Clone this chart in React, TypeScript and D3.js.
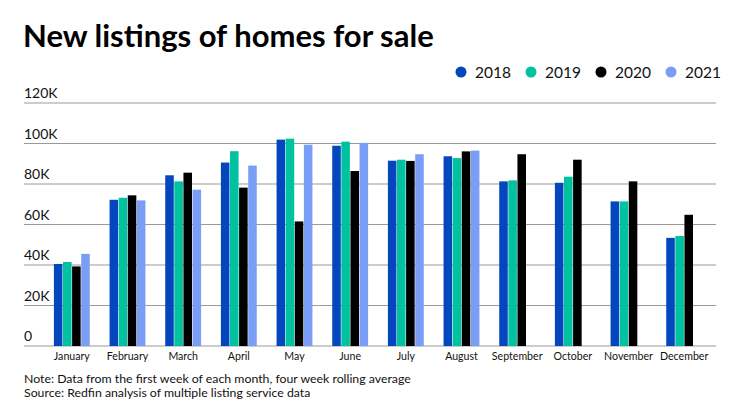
import React, { useEffect, useMemo } from "react";
import * as d3 from "d3";

const WIDTH = 740;
const HEIGHT = 416;
const FONT = "Lato, 'Noto Sans', sans-serif";

// chart data
const months = [
  "January", "February", "March", "April", "May", "June",
  "July", "August", "September", "October", "November", "December",
];
const years = ["2018", "2019", "2020", "2021"];
const values2018 = [40.5, 72.2, 84.3, 90.6, 101.9, 98.9, 91.5, 93.7, 81.3, 80.6, 71.4, 53.4];
const values2019 = [41.5, 73.2, 81.3, 96.2, 102.4, 100.9, 92.0, 92.8, 81.8, 83.6, 71.4, 54.3];
const values2020 = [39.3, 74.4, 85.6, 78.2, 61.5, 86.4, 91.4, 96.1, 94.7, 92.0, 81.3, 64.8];
const values2021 = [45.5, 71.9, 77.2, 89.1, 99.4, 100.3, 94.7, 96.5, null, null, null, null];
const yTicks = [0, 20, 40, 60, 80, 100, 120];
const yTickLabels = ["0", "20K", "40K", "60K", "80K", "100K", "120K"];

const COLORS: Record<string, string> = {
  "2018": "#0346BE",
  "2019": "#00C2A0",
  "2020": "#000000",
  "2021": "#7A9DF5",
};

const MARGIN = { left: 24, right: 24, top: 103, bottom: 70 };

export default function App() {
  useEffect(() => {
    document.body.style.margin = "0";
  }, []);

  const series = [values2018, values2019, values2020, values2021];

  const xScale = useMemo(
    () =>
      d3.scaleBand()
        .domain(months)
        .range([44, 712])
        .paddingInner(0.336)
        .paddingOuter(0.168),
    []
  );
  const xInner = useMemo(
    () => d3.scaleBand().domain(years).range([0, xScale.bandwidth()]).padding(0.06),
    [xScale]
  );
  const yScale = useMemo(
    () => d3.scaleLinear().domain([0, 120]).range([346, 103]),
    []
  );

  const bars = months.flatMap((m, i) =>
    years.map((yr, j) => {
      const v = series[j][i];
      if (v == null) return null;
      const x = (xScale(m) ?? 0) + (xInner(yr) ?? 0);
      const y = yScale(v);
      return (
        <rect
          key={m + yr}
          x={x}
          y={y}
          width={xInner.bandwidth()}
          height={yScale(0) - y}
          fill={COLORS[yr]}
        />
      );
    })
  );

  const legendX = [461, 531, 601, 671];

  return (
    <svg width={WIDTH} height={HEIGHT} style={{ display: "block" }} fontFamily={FONT}>
      <rect width={WIDTH} height={HEIGHT} fill="#fff" />
      <text x={23} y={47} fontSize={31} fontWeight={700} fill="#000">
        New listings of homes for sale
      </text>

      {/* legend */}
      {years.map((yr, i) => (
        <g key={yr} transform={`translate(${legendX[i]},72)`}>
          <circle cx={0} cy={0} r={5.5} fill={COLORS[yr]} />
          <text x={14} y={5.5} fontSize={15.5} fill="#111">
            {yr}
          </text>
        </g>
      ))}

      {/* grid + y labels */}
      {yTicks.map((t, i) => (
        <g key={t}>
          <line
            x1={MARGIN.left}
            x2={WIDTH - MARGIN.right}
            y1={yScale(t)}
            y2={yScale(t)}
            stroke="#9a9a9a"
            strokeWidth={1.2}
          />
          <text x={MARGIN.left} y={yScale(t) - 5} fontSize={14} fill="#111">
            {yTickLabels[i]}
          </text>
        </g>
      ))}

      {bars}

      {/* month labels */}
      {months.map((m) => (
        <text
          key={m}
          x={(xScale(m) ?? 0) + xScale.bandwidth() / 2}
          y={360}
          fontSize={10.6}
          textAnchor="middle"
          fill="#111"
        >
          {m}
        </text>
      ))}

      <text x={24} y={383} fontSize={12.3} fill="#111">
        Note: Data from the first week of each month, four week rolling average
      </text>
      <text x={24} y={397} fontSize={12.3} fill="#111">
        Source: Redfin analysis of multiple listing service data
      </text>
    </svg>
  );
}
